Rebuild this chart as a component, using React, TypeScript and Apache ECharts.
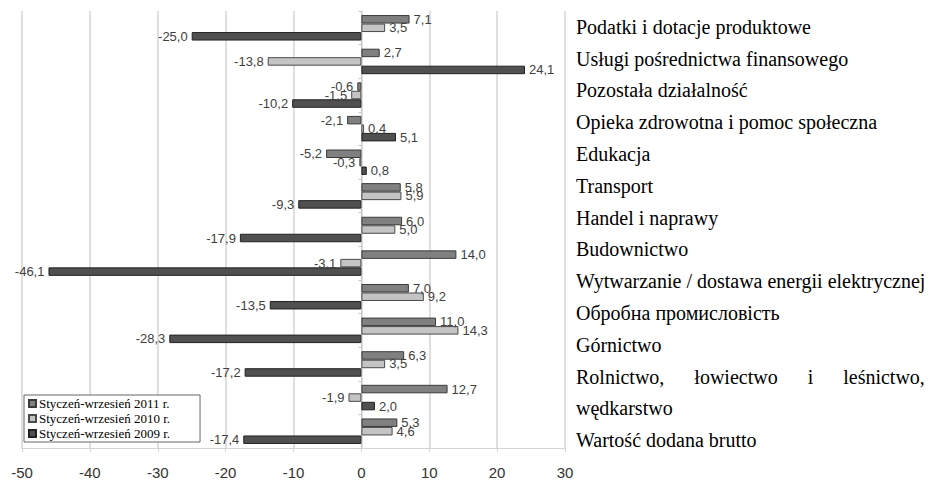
import React, { useEffect, useRef } from "react";
import * as echarts from "echarts";

const categories = [
  "Podatki i dotacje produktowe",
  "Usługi pośrednictwa finansowego",
  "Pozostała działalność",
  "Opieka zdrowotna i pomoc społeczna",
  "Edukacja",
  "Transport",
  "Handel i naprawy",
  "Budownictwo",
  "Wytwarzanie / dostawa energii elektrycznej",
  "Обробна промисловість",
  "Górnictwo",
  "Rolnictwo, łowiectwo i leśnictwo, wędkarstwo",
  "Wartość dodana brutto",
];

const sideLabels = [
  "Podatki i dotacje produktowe",
  "Usługi pośrednictwa finansowego",
  "Pozostała działalność",
  "Opieka zdrowotna i pomoc społeczna",
  "Edukacja",
  "Transport",
  "Handel i naprawy",
  "Budownictwo",
  "Wytwarzanie / dostawa energii elektrycznej",
  "Обробна промисловість",
  "Górnictwo",
  "Rolnictwo,      łowiectwo      i      leśnictwo,",
  "wędkarstwo",
  "Wartość dodana brutto",
];

const seriesNames = [
  "Styczeń-wrzesień 2011 r.",
  "Styczeń-wrzesień 2010 r.",
  "Styczeń-wrzesień 2009 r.",
];

const values2011 = [7.1, 2.7, -0.6, -2.1, -5.2, 5.8, 6.0, 14.0, 7.0, 11.0, 6.3, 12.7, 5.3];
const values2010 = [3.5, -13.8, -1.5, 0.4, -0.3, 5.9, 5.0, -3.1, 9.2, 14.3, 3.5, -1.9, 4.6];
const values2009 = [-25.0, 24.1, -10.2, 5.1, 0.8, -9.3, -17.9, -46.1, -13.5, -28.3, -17.2, 2.0, -17.4];

const xTicks = { min: -50, max: 30, interval: 10 };

const SERIF = "Liberation Serif";
const SANS = "Liberation Sans";

const fmt = (v: number) => v.toFixed(1).replace(".", ",");

function makeSeries(name: string, values: number[], color: string, border: string) {
  return {
    name,
    type: "bar",
    xAxisIndex: 0,
    yAxisIndex: 0,
    barWidth: 8.5,
    barGap: "0%",
    itemStyle: { color, borderColor: border, borderWidth: 1 },
    label: {
      show: true,
      formatter: (p: any) => fmt(p.value),
      fontSize: 13,
      color: "#404040",
      fontFamily: SANS,
      distance: 4,
    },
    data: values.map((v) => ({
      value: v,
      label: { position: v >= 0 ? "right" : "left" },
    })),
  };
}

export default function App() {
  const ref = useRef<HTMLDivElement>(null);
  useEffect(() => {
    if (!ref.current) return;
    const chart = echarts.init(ref.current, null, { renderer: "svg" });
    chart.setOption({
      animation: false,
      backgroundColor: "#ffffff",
      color: ["#808080", "#c4c4c4", "#505050"],
      legend: {
        data: seriesNames,
        orient: "vertical",
        left: 24,
        top: 395,
        icon: "rect",
        itemWidth: 7,
        itemHeight: 7,
        itemGap: 2,
        padding: [2, 30, 2, 4],
        backgroundColor: "#ffffff",
        borderColor: "#666666",
        borderWidth: 1,
        textStyle: {
          fontFamily: SERIF,
          fontSize: 13,
          color: "#000000",
          padding: [0, 0, 0, -2],
        },
        z: 10,
      },
      grid: [
        { left: 22, right: 367, top: 11, bottom: 32 },
        { left: 576, right: 0, top: 11, bottom: 24 },
      ],
      xAxis: [
        {
          gridIndex: 0,
          type: "value",
          min: xTicks.min,
          max: xTicks.max,
          interval: xTicks.interval,
          splitLine: { show: true, lineStyle: { color: "#d4d4d4", width: 1.5 } },
          axisLine: { show: true, lineStyle: { color: "#d4d4d4" } },
          axisTick: { show: true, length: 4, lineStyle: { color: "#d4d4d4" } },
          axisLabel: {
            fontSize: 15,
            color: "#333333",
            margin: 17,
            fontFamily: SANS,
          },
        },
        { gridIndex: 1, type: "value", min: 0, max: 1, show: false },
      ],
      yAxis: [
        {
          gridIndex: 0,
          type: "category",
          data: categories,
          inverse: true,
          axisLabel: { show: false },
          axisLine: { show: true, onZero: true, lineStyle: { color: "#c8c8c8" } },
          axisTick: { show: true, length: 3, lineStyle: { color: "#c8c8c8" } },
          splitLine: { show: false },
        },
        {
          gridIndex: 1,
          type: "category",
          data: sideLabels,
          inverse: true,
          axisLine: { show: false },
          axisTick: { show: false },
          splitLine: { show: false },
          axisLabel: {
            inside: true,
            margin: 0,
            align: "left",
            interval: 0,
            fontFamily: SERIF,
            fontSize: 20,
            color: "#000000",
          },
        },
      ],
      series: [
        makeSeries(seriesNames[0], values2011, "#808080", "#3a3a3a"),
        makeSeries(seriesNames[1], values2010, "#c4c4c4", "#4a4a4a"),
        makeSeries(seriesNames[2], values2009, "#505050", "#222222"),
      ],
    });
    return () => chart.dispose();
  }, []);
  return (
    <div
      ref={ref}
      style={{ position: "absolute", left: 0, top: 0, width: 932, height: 480, background: "#fff" }}
    />
  );
}
